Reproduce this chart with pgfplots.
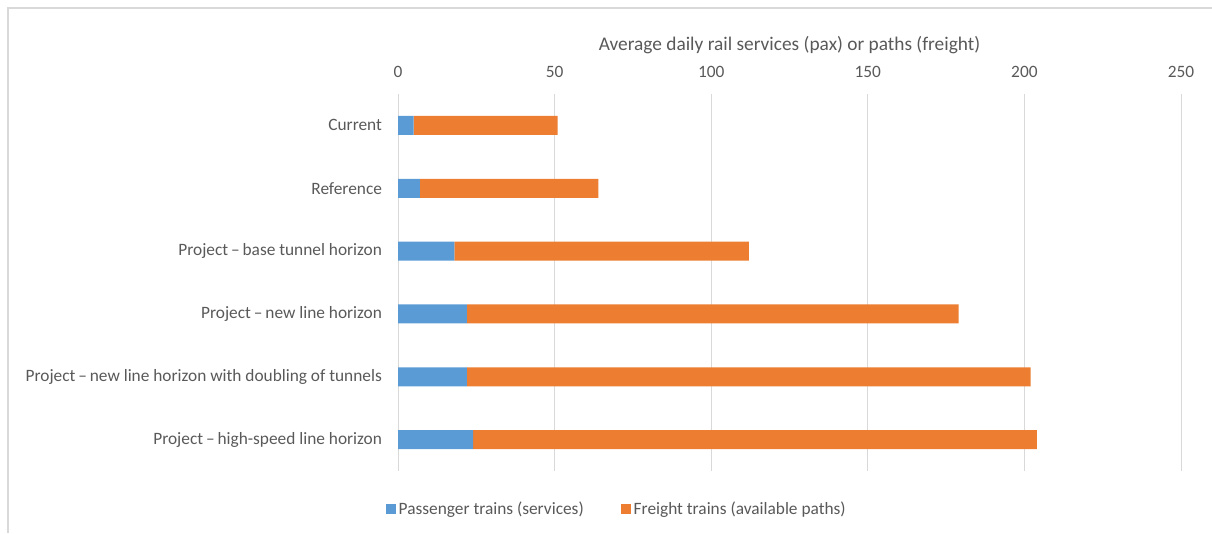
\documentclass[border=0pt]{standalone}
\usepackage{fontspec}
\setmainfont{Carlito}
\usepackage{pgfplots}
\pgfplotsset{compat=1.18}
\definecolor{pblue}{HTML}{5B9BD5}
\definecolor{porange}{HTML}{ED7D31}
\definecolor{tgray}{HTML}{595959}
\definecolor{ggray}{HTML}{D9D9D9}
\begin{document}
\fontsize{13}{15.6}\selectfont
\begin{tikzpicture}
\path[use as bounding box] (0,0) rectangle (909pt,399.75pt);
\draw[ggray, line width=1.1pt] (6pt,0) -- (6pt,393.75pt) -- (909pt,393.75pt);
\begin{axis}[
  at={(298.5pt,46.5pt)}, anchor=south west,
  scale only axis, width=587.25pt, height=282.75pt,
  clip=false,
  xbar stacked, bar width=14.25pt,
  xmin=0, xmax=250, ymin=-0.5, ymax=5.5, y dir=reverse,
  xtick={0,50,...,250}, xticklabel pos=top,
  ytick={0,1,2,3,4,5},
  yticklabels={Current, Reference, Project\,–\,base tunnel horizon, Project\,–\,new line horizon\hspace{3pt}, Project\,–\,new line horizon with doubling of tunnels, Project\,–\,high-speed line horizon},
  /pgf/number format/assume math mode=true,
  xmajorgrids=true,
  major grid style={ggray, line width=0.75pt},
  axis line style={draw=none},
  major tick length=0pt,
  tick label style={text=tgray, font=\fontsize{13}{15.6}\selectfont},
  xticklabel style={anchor=center, yshift=16.5pt},
  yticklabel style={xshift=-7.5pt},
  legend columns=2,
  legend style={draw=none, at={(0.28,-0.1008)}, anchor=center, text=tgray, font=\fontsize{13}{15.6}\selectfont,
    /tikz/every even column/.append style={column sep=26pt}},
  legend image code/.code={\fill[#1] (0pt,-3.75pt) rectangle (7.5pt,3.75pt);},
]
\addplot[fill=pblue, draw=none] coordinates {(5,0) (7,1) (18,2) (22,3) (22,4) (24,5)};
\addplot[fill=porange, draw=none] coordinates {(46,0) (57,1) (94,2) (157,3) (180,4) (180,5)};
\legend{Passenger trains (services), Freight trains (available paths)}
\node[text=tgray, anchor=center, font=\fontsize{14.5}{17.4}\selectfont] at (axis description cs:0.5,1.13) {Average daily rail services (pax) or paths (freight)};
\end{axis}
\end{tikzpicture}
\end{document}
